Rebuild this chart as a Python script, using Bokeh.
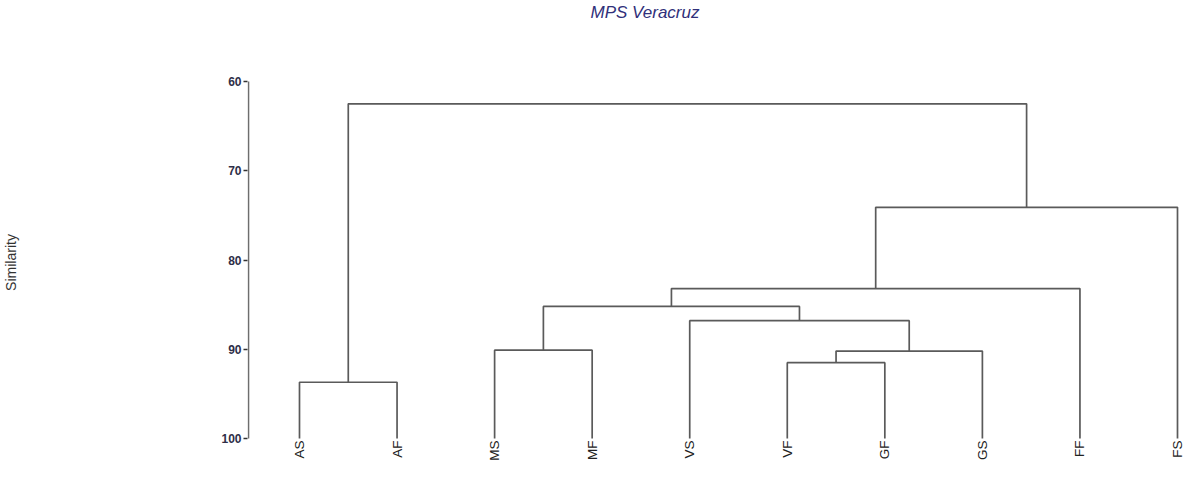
from bokeh.plotting import figure
from bokeh.models import Range1d, FixedTicker, Title, ColumnDataSource, LabelSet
from bokeh.core.properties import value
from bokeh.embed import file_html
from bokeh.resources import INLINE
import math

# ---- data ----
leaves = ["AS", "AF", "MS", "MF", "VS", "VF", "GF", "GS", "FF", "FS"]
# merge steps: cluster ids 0..9 are leaves, new clusters numbered 10, 11, ...
merge_a = [0, 2, 5, 12, 4, 11, 15, 16, 10]
merge_b = [1, 3, 6, 7, 13, 14, 8, 9, 17]
merge_height = [93.7, 90.1, 91.5, 90.2, 86.8, 85.2, 83.2, 74.1, 62.5]
y_ticks = [60, 70, 80, 90, 100]
leaf_level = 100

# ---- dendrogram geometry from the data ----
pos = {i: float(i) for i in range(len(leaves))}
hgt = {i: float(leaf_level) for i in range(len(leaves))}
xs, ys = [], []
for k, (a, b, h) in enumerate(zip(merge_a, merge_b, merge_height)):
    cid = len(leaves) + k
    xs.append([pos[a], pos[a], pos[b], pos[b]])
    ys.append([hgt[a], h, h, hgt[b]])
    pos[cid] = (pos[a] + pos[b]) / 2
    hgt[cid] = h

src = ColumnDataSource(dict(xs=xs, ys=ys))
leaf_src = ColumnDataSource(dict(x=list(range(len(leaves))),
                                 y=[leaf_level] * len(leaves), name=leaves))

axis_x = -0.5228
p = figure(width=1185, height=461, output_backend="svg", toolbar_location=None,
           x_range=Range1d(-0.533, 9.082), y_range=Range1d(102.577, 57.983),
           x_axis_location=None,
           min_border_left=239, min_border_right=0, min_border_top=55,
           min_border_bottom=0)

# y axis line limited to the tick span
p.segment(x0=[axis_x], y0=[y_ticks[0]], x1=[axis_x], y1=[y_ticks[-1]],
          line_color="#6e6e6e", line_width=1.6)

p.multi_line(xs="xs", ys="ys", source=src, line_color="#5a5a5a", line_width=1.7)

# spacer (nearest the frame) then the title on top
spacer = Title(text=" ", text_font_size="17px", standoff=17)
p.add_layout(spacer, "above")
t = Title(text="MPS Veracruz", text_font="Liberation Sans", text_font_style="italic",
          text_font_size="17px", text_color="#30307a", align="left", offset=343,
          standoff=4, vertical_align="top")
p.add_layout(t, "above")

p.outline_line_color = None
p.xgrid.visible = False
p.ygrid.visible = False
p.background_fill_color = "white"
p.border_fill_color = "white"

# y axis
ya = p.yaxis[0]
ya.ticker = FixedTicker(ticks=y_ticks)
ya.axis_line_color = None
ya.major_tick_line_color = "#333333"
ya.major_tick_line_width = 1.5
ya.major_tick_out = 4
ya.major_tick_in = 0
ya.minor_tick_line_color = None
ya.major_label_text_font = "Liberation Sans"
ya.major_label_text_font_style = "bold"
ya.major_label_text_font_size = "12px"
ya.major_label_text_color = "#2e2e48"
ya.major_label_standoff = 2
ya.axis_label = "Similarity"
ya.axis_label_text_font = "Liberation Sans"
ya.axis_label_text_font_style = "normal"
ya.axis_label_text_font_size = "14px"
ya.axis_label_text_color = "#333333"
ya.axis_label_standoff = 199

# leaf labels below the leaves
labels = LabelSet(x="x", y="y", text="name", source=leaf_src, angle=math.pi / 2,
                  text_align="right", text_baseline="middle", y_offset=-2,
                  text_font=value("Liberation Sans"), text_font_size="13.5px",
                  text_color="#222222")
p.add_layout(labels)

open("out.html", "w").write(file_html(p, INLINE))
